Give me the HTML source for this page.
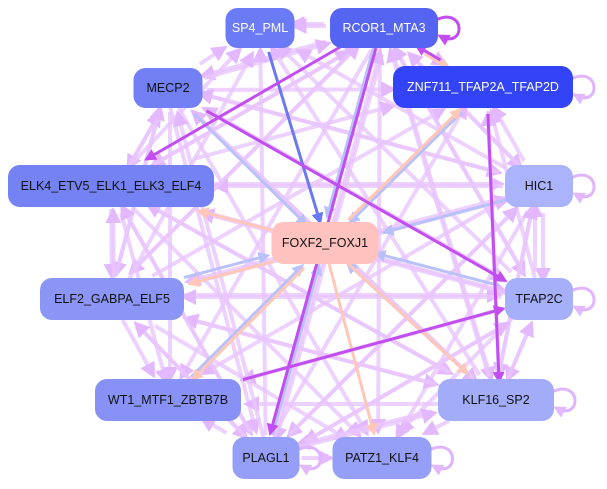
<!DOCTYPE html>
<html><head><meta charset="utf-8"><style>
html,body{margin:0;padding:0;background:#fff;width:607px;height:489px;overflow:hidden}
svg{display:block}
text{font-family:"Liberation Sans",sans-serif;font-size:12.5px;text-anchor:middle;dominant-baseline:central}
</style></head><body>
<svg id="s" width="607" height="489" xmlns="http://www.w3.org/2000/svg">
<defs>
<marker id="ml" markerWidth="4" markerHeight="4" refX="3" refY="2" orient="auto" markerUnits="strokeWidth"><path d="M0,0L4,2L0,4z" fill="#e3b8ff"/></marker>
<marker id="md" markerWidth="4" markerHeight="4" refX="3" refY="2" orient="auto" markerUnits="strokeWidth"><path d="M0,0L4,2L0,4z" fill="#c24ef2"/></marker>
<marker id="mb" markerWidth="4" markerHeight="4" refX="3" refY="2" orient="auto" markerUnits="strokeWidth"><path d="M0,0L4,2L0,4z" fill="#6a78f2"/></marker>
<marker id="mlb" markerWidth="4" markerHeight="4" refX="3" refY="2" orient="auto" markerUnits="strokeWidth"><path d="M0,0L4,2L0,4z" fill="#b9c1fa"/></marker>
<marker id="mp" markerWidth="4" markerHeight="4" refX="3" refY="2" orient="auto" markerUnits="strokeWidth"><path d="M0,0L4,2L0,4z" fill="#ffc7b7"/></marker>
</defs>
<g id="e"></g>
<g id="n"></g>
</svg>
<script>
var N={
SP4:[260,28,69,40,"SP4_PML","#6b7af5","#fff"],
RC:[384,28,108,40,"RCOR1_MTA3","#5664f2","#fff"],
ME:[168,88,69,40,"MECP2","#7280f3","#111"],
ZN:[483,87,180,42,"ZNF711_TFAP2A_TFAP2D","#3344f6","#fff"],
EL:[111,186,206,42,"ELK4_ETV5_ELK1_ELK3_ELF4","#7582f4","#111"],
HI:[539,186,68,42,"HIC1","#aab3fb","#111"],
FO:[325,243,107,42,"FOXF2_FOXJ1","#ffc2bf","#111"],
E2:[112,299,144,42,"ELF2_GABPA_ELF5","#8a95f6","#111"],
TC:[539,299,68,42,"TFAP2C","#a6aff9","#111"],
WT:[168,400,146,42,"WT1_MTF1_ZBTB7B","#8892f6","#111"],
KL:[496,400,116,42,"KLF16_SP2","#a3acf8","#111"],
PL:[266,458,67,42,"PLAGL1","#959ff7","#111"],
PA:[382,458,99,42,"PATZ1_KLF4","#959ff7","#111"]};
var K=Object.keys(N);
var E=[];
for(var i=0;i<K.length;i++)for(var j=0;j<K.length;j++){if(i==j)continue;if((i*7+j*3)%3==0)continue;if(K[j]=="FO"||K[i]=="FO")continue;E.push([K[i],K[j],"l"]);}
var spec=[["SP4","FO","b"],["HI","FO","lb"],["TC","FO","lb"],["KL","FO","lb"],["PL","FO","lb"],["ZN","FO","lb"],["ME","FO","lb"],["RC","FO","lb"],["E2","FO","lb"],["WT","FO","lb"],
["FO","EL","p"],["FO","E2","p"],["FO","KL","p"],["FO","PA","p"],["FO","ZN","p"],["FO","WT","p"],["RC","ZN","p"],
["RC","EL","d"],["RC","PL","d"],["WT","TC","d"],["ME","TC","d"],["ZN","KL","d"],["ZN","RC","d"],["RC","SP4","l"]];
E=E.concat(spec);
function clip(a,b){var dx=b[0]-a[0],dy=b[1]-a[1];var hw=b[2]/2+2,hh=b[3]/2+2;var t=Math.min(Math.abs(dx)>0?hw/Math.abs(dx):1e9,Math.abs(dy)>0?hh/Math.abs(dy):1e9);return [b[0]-dx*t,b[1]-dy*t];}
var col={l:"#e8c6ff",d:"#c24ef2",b:"#6a78f2",lb:"#b9c1fa",p:"#ffc7b7"};
var mk={l:"ml",d:"md",b:"mb",lb:"mlb",p:"mp"};
var g=document.getElementById("e"),h="";
E.forEach(function(x,k){var a=N[x[0]],b=N[x[1]];var off=((k%5)-2)*2;var s=clip(b,a),t=clip(a,b);
var w=x[2]=="l"?4:3;
h+='<line x1="'+(s[0]+off)+'" y1="'+(s[1]+off)+'" x2="'+(t[0]+off)+'" y2="'+(t[1]+off)+'" stroke="'+col[x[2]]+'" stroke-width="'+w+'" stroke-opacity="'+(x[2]=="l"?0.8:1)+'" marker-end="url(#'+mk[x[2]]+')"/>';});
["RC","ZN","HI","TC","KL","PA","PL"].forEach(function(k){var n=N[k];var x=n[0]+n[2]/2-2,y=n[1];
h+='<path d="M'+x+','+(y-8)+' C'+(x+30)+','+(y-22)+' '+(x+30)+','+(y+22)+' '+(x+4)+','+(y+8)+'" fill="none" stroke="'+(k=="RC"?"#c24ef2":"#e0b4ff")+'" stroke-width="3" marker-end="url(#'+(k=="RC"?"md":"ml")+')"/>';});
g.innerHTML=h;
var q="";K.forEach(function(k){var n=N[k];q+='<rect x="'+(n[0]-n[2]/2)+'" y="'+(n[1]-n[3]/2)+'" width="'+n[2]+'" height="'+n[3]+'" rx="12" fill="'+n[5]+'"/><text x="'+n[0]+'" y="'+n[1]+'" fill="'+n[6]+'">'+n[4]+'</text>';});
document.getElementById("n").innerHTML=q;
</script>
</body></html>
